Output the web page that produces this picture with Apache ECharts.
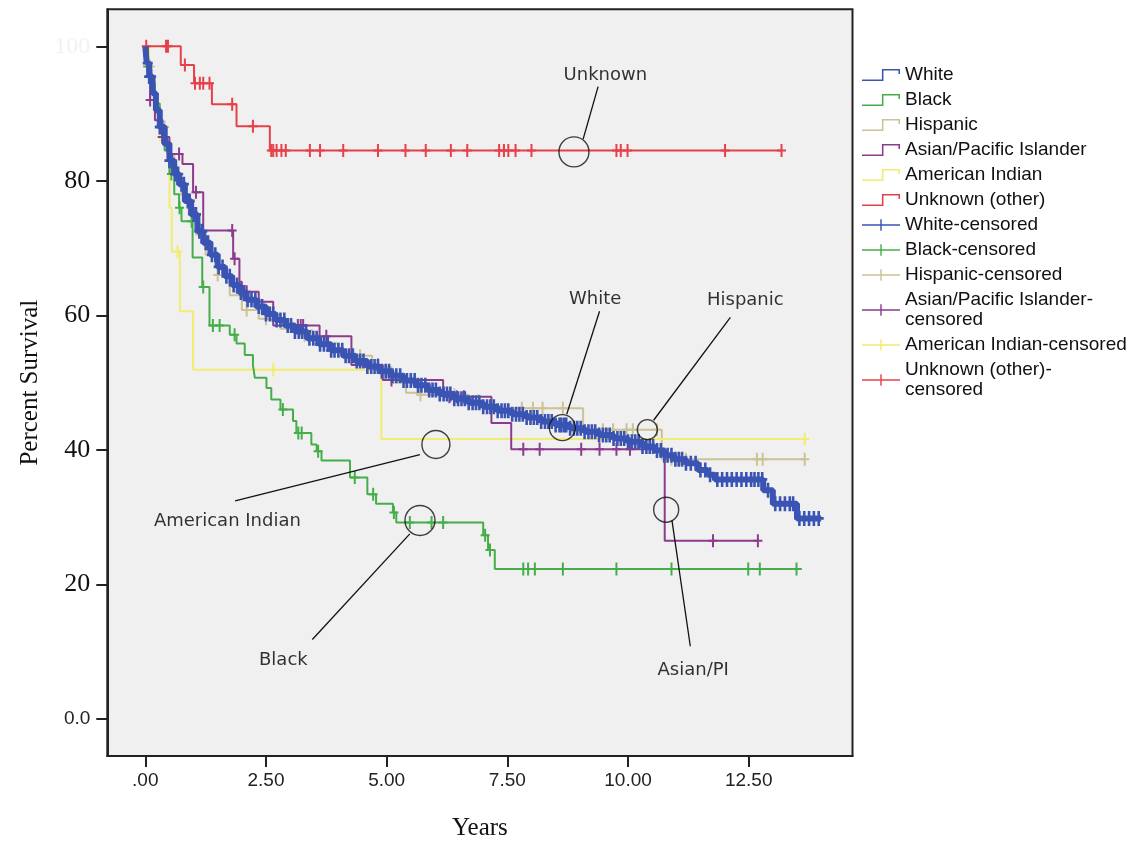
<!DOCTYPE html>
<html>
<head>
<meta charset="utf-8">
<script src="https://cdn.jsdelivr.net/npm/echarts@6/dist/echarts.min.js"></script>
<style>
html,body{margin:0;padding:0;background:#fff;}
#chart{width:1147px;height:846px;}
</style>
</head>
<body>
<div id="chart"></div>
<script>
// ---------------- DATA ----------------
const xTickValues = [0, 2.5, 5, 7.5, 10, 12.5];
const yTickValues = [0, 20, 40, 60, 80, 100];

const groupNames = ['White', 'Black', 'Hispanic', 'Asian/Pacific Islander', 'American Indian', 'Unknown (other)'];

// Kaplan-Meier step points [years, percent survival]
const whiteCurve = [[0,100],[0.03,97.5],[0.08,95.5],[0.15,93],[0.22,90.5],[0.3,88],[0.4,85.5],[0.5,83],[0.6,81],[0.7,79.5],[0.82,77],[0.95,75],[1.08,72.5],[1.2,70.8],[1.35,69],[1.5,67.2],[1.65,65.8],[1.8,64.5],[1.95,63.4],[2.1,62.3],[2.3,61.3],[2.5,60.2],[2.7,59.3],[2.9,58.5],[3.1,57.6],[3.35,56.6],[3.6,55.7],[3.85,54.8],[4.1,54.0],[4.35,53.2],[4.6,52.4],[4.85,51.7],[5.1,51.0],[5.35,50.3],[5.6,49.6],[5.85,48.9],[6.1,48.3],[6.4,47.6],[6.7,47.0],[7.0,46.4],[7.3,45.8],[7.6,45.3],[7.9,44.8],[8.2,44.2],[8.5,43.7],[8.8,43.2],[9.1,42.7],[9.4,42.2],[9.7,41.7],[10.0,41.2],[10.3,40.5],[10.55,39.9],[10.75,39.2],[10.95,38.6],[11.2,38.0],[11.45,37.0],[11.65,36.3],[11.8,35.6],[12.8,34.0],[13.0,32.0],[13.5,29.8],[14.0,29.8]];
const blackCurve = [[0,100],[0.05,97],[0.1,94.5],[0.2,91.5],[0.3,88],[0.4,84.5],[0.5,81],[0.6,78],[0.7,76],[0.75,74],[0.98,68.6],[1.18,64.2],[1.33,58.5],[1.75,57.1],[1.89,55.8],[2.06,54.1],[2.23,52.6],[2.27,50.7],[2.51,49.2],[2.61,47.5],[2.8,46.0],[3.06,44.3],[3.13,42.5],[3.44,40.8],[3.55,39.8],[3.65,38.4],[4.24,35.9],[4.6,33.4],[4.78,32.0],[5.13,30.7],[5.2,29.2],[7.0,27.3],[7.1,25.1],[7.24,22.3],[13.6,22.3]];
const hispanicCurve = [[0,100],[0.05,97],[0.12,94],[0.2,91],[0.3,88],[0.45,84],[0.6,80.5],[0.75,78],[0.9,75],[1.05,72],[1.25,69],[1.5,66],[1.75,63],[2.0,60.8],[2.35,59.5],[2.8,58],[3.2,57],[3.6,55.8],[4.0,54.6],[4.3,54],[4.7,52.3],[5.1,50],[5.4,48.5],[5.7,48.2],[6.7,47.3],[7.0,46.2],[9.07,43.0],[10.7,38.6],[13.66,38.6]];
const asianCurve = [[0,100],[0.05,96],[0.1,92],[0.2,89],[0.35,86.5],[0.5,84],[0.77,82.5],[0.99,78.3],[1.2,72.6],[1.82,68.4],[1.95,65],[2.0,63.5],[2.35,62],[2.65,58.5],[3.61,56.9],[4.27,52.6],[4.92,50.4],[6.17,47.9],[7.17,44.0],[7.58,40.1],[10.76,26.5],[12.69,26.5]];
const amIndianCurve = [[0,100],[0.08,95],[0.2,90],[0.3,86],[0.5,76],[0.55,69.5],[0.715,60.6],[0.99,51.9],[4.89,41.6],[13.66,41.6]];
const unknownCurve = [[0,100],[0.735,97.2],[1.01,94.5],[1.38,91.4],[1.89,88.1],[2.58,84.5],[13.18,84.5]];

// censoring times (years)
const whiteCensored = [0.05,0.08,0.12,0.3,0.35,0.45,0.5,0.55,0.62,0.68,0.75,0.8,0.88,0.92,1.0,1.05,1.12,1.18,1.25,1.3,1.38,1.45,1.52,1.6,1.68,1.75,1.83,1.9,1.98,2.05,2.12,2.2,2.28,2.35,2.42,2.5,2.58,2.65,2.72,2.8,2.88,2.95,3.02,3.1,3.18,3.25,3.33,3.4,3.48,3.55,3.62,3.7,3.78,3.85,3.92,4.0,4.08,4.15,4.22,4.3,4.38,4.45,4.52,4.6,4.68,4.75,4.82,4.9,4.98,5.05,5.12,5.2,5.28,5.35,5.42,5.5,5.58,5.65,5.72,5.8,5.88,5.95,6.02,6.1,6.18,6.25,6.32,6.4,6.48,6.55,6.62,6.7,6.78,6.85,6.92,7.0,7.08,7.15,7.22,7.3,7.38,7.45,7.52,7.6,7.68,7.75,7.82,7.9,7.98,8.05,8.12,8.2,8.28,8.35,8.42,8.5,8.58,8.62,8.68,8.72,8.8,8.88,8.95,9.02,9.1,9.18,9.25,9.32,9.4,9.48,9.55,9.62,9.7,9.78,9.85,9.92,10.0,10.08,10.15,10.22,10.3,10.38,10.45,10.52,10.6,10.68,10.75,10.82,10.9,10.98,11.05,11.12,11.2,11.3,11.4,11.5,11.6,11.7,11.85,11.95,12.05,12.15,12.25,12.35,12.45,12.55,12.62,12.7,12.78,12.9,13.05,13.15,13.25,13.35,13.42,13.55,13.65,13.75,13.85,13.95];
const blackCensored = [0.05,0.54,0.71,0.96,1.2,1.40,1.54,1.85,2.85,3.17,3.24,3.58,4.34,4.72,5.15,5.48,5.93,6.17,7.04,7.14,7.83,7.93,8.07,8.65,9.76,10.9,12.49,12.73,13.49];
const hispanicCensored = [0.1,0.4,0.8,1.5,2.1,2.5,3.3,3.45,4.3,4.45,5.7,6.4,6.9,7.8,8.03,8.23,8.65,9.48,9.69,9.97,10.1,10.6,10.9,11.0,11.1,11.2,12.67,12.79,13.66];
const asianCensored = [0.1,0.35,0.7,1.05,1.8,1.85,2.0,2.1,3.16,3.22,3.27,3.75,4.82,5.1,6.3,6.45,6.6,7.83,8.17,9.03,9.41,9.76,10.04,11.76,12.69];
const amIndianCensored = [0.67,2.65,13.66];
const unknownCensored = [0.02,0.43,0.47,0.82,1.03,1.13,1.2,1.33,1.8,2.23,2.61,2.65,2.72,2.82,2.91,3.41,3.62,4.10,4.82,5.39,5.81,6.33,6.67,7.33,7.43,7.52,7.67,8.0,9.76,9.85,9.99,12.01,13.18];

// annotations (data coordinates)
const annotLabels = ['Unknown', 'White', 'Hispanic', 'American Indian', 'Black', 'Asian/PI'];
const annotTextAt = [[9.53,95.7],[9.32,62.4],[12.43,62.3],[1.70,29.3],[2.86,8.7],[11.35,7.2]];
const annotCircleAt = [[8.88,84.3],[8.64,43.3],[10.40,43.0],[6.02,40.8],[5.69,29.5],[10.79,31.1]];
const annotLeaderFrom = [[9.38,94.0],[9.41,60.6],[12.12,59.7],[1.86,32.4],[3.46,11.8],[11.29,10.8]];
const annotLeaderTo = [[9.07,86.2],[8.73,45.3],[10.53,44.4],[5.69,39.3],[5.48,27.5],[10.91,29.5]];

// ---------------- STYLE ----------------
const curves = [whiteCurve, blackCurve, hispanicCurve, asianCurve, amIndianCurve, unknownCurve];
const censored = [whiteCensored, blackCensored, hispanicCensored, asianCensored, amIndianCensored, unknownCensored];
const colors = ['#3a54b3', '#45ae4a', '#cbc296', '#8c3b8d', '#f2ec72', '#e6414b'];
const lineWidths = [6, 2, 2, 2, 2, 2];
const zOrder = [8, 5, 3, 6, 4, 7];
const circleDiam = [30, 26, 20, 28, 30, 25];

const stepIcon = 'path://M0,10.25H19.25V0.25H36.75V5H35.25V1.75H20.75V11.75H0Z';
const crossIcon = 'path://M0,5.25H19.25V0H20.75V5.25H40V6.75H20.75V12H19.25V6.75H0Z';
const plusSymbol = 'path://M-1,-6.5H1V-1H4.5V1H1V6.5H-1V1H-4.5V-1H-1Z';
const boldPlusSymbol = 'path://M-1.3,-7H1.3V-1.3H5V1.3H1.3V7H-1.3V1.3H-5V-1.3H-1.3Z';
const censorSizes = [[10, 15], [9, 13], [9, 13], [9, 13], [9, 13], [9, 13]];

function stepAt(curve, t) {
  let v = curve[0][1];
  for (const p of curve) { if (p[0] <= t) v = p[1]; else break; }
  return v;
}

const series = [];
groupNames.forEach((name, i) => {
  series.push({
    name: name, type: 'line', step: 'end', data: curves[i],
    showSymbol: false, symbol: 'none', z: zOrder[i],
    color: colors[i],
    itemStyle: { color: colors[i], borderWidth: 0 },
    lineStyle: { color: colors[i], width: lineWidths[i] },
    animation: false, silent: true
  });
});
groupNames.forEach((name, i) => {
  series.push({
    name: name + '-censored', type: 'scatter',
    data: censored[i].map(t => [t, stepAt(curves[i], t)]),
    symbol: i === 0 ? boldPlusSymbol : plusSymbol, symbolSize: censorSizes[i], z: zOrder[i],
    color: colors[i],
    itemStyle: { color: colors[i], borderWidth: 0, opacity: 1 },
    animation: false, silent: true
  });
});
// annotation leaders
annotLabels.forEach((lab, i) => {
  series.push({
    type: 'line', data: [annotLeaderFrom[i], annotLeaderTo[i]],
    showSymbol: false, symbol: 'none', z: 20,
    lineStyle: { color: '#111', width: 1.3 }, animation: false, silent: true
  });
});
series.push({
  type: 'scatter', z: 21, animation: false, silent: true,
  data: annotCircleAt.map((p, i) => ({ value: p, symbolSize: circleDiam[i] })),
  symbol: 'circle',
  itemStyle: { color: 'rgba(0,0,0,0)', borderColor: '#111', borderWidth: 1.4 }
});
series.push({
  type: 'scatter', z: 22, animation: false, silent: true,
  data: annotTextAt.map((p, i) => ({ value: p, name: annotLabels[i] })),
  symbolSize: 2, itemStyle: { color: 'rgba(0,0,0,0)' },
  label: {
    show: true, position: 'inside', formatter: '{b}',
    fontFamily: 'DejaVu Sans', fontSize: 18, color: '#000', textBorderWidth: 0
  }
});

const legendNames = groupNames.map(n => ({ name: n, icon: stepIcon }))
  .concat(groupNames.map(n => ({ name: n + '-censored', icon: crossIcon })));

const chart = echarts.init(document.getElementById('chart'), null, { renderer: 'canvas' });
chart.setOption({
  backgroundColor: '#ffffff',
  animation: false,
  grid: {
    left: 107.3, right: 294.5, top: 9.3, bottom: 86,
    show: true, backgroundColor: '#f0f0f0', borderColor: '#222', borderWidth: 2
  },
  legend: {
    orient: 'vertical', left: 857, top: 60,
    itemWidth: 38, itemHeight: 12, itemGap: 5,
    selectedMode: false,
    data: legendNames,
    itemStyle: { borderWidth: 0 },
    textStyle: { fontFamily: 'Liberation Sans, Arial, sans-serif', fontSize: 19, color: '#111', lineHeight: 20 },
    formatter: function (n) {
      if (n === 'Asian/Pacific Islander-censored') return 'Asian/Pacific Islander-\ncensored';
      if (n === 'Unknown (other)-censored') return 'Unknown (other)-\ncensored';
      return n;
    }
  },
  xAxis: {
    type: 'value', min: -0.787, max: 14.65,
    name: 'Years', nameLocation: 'middle', nameGap: 60,
    nameTextStyle: { fontFamily: 'Liberation Serif, Times New Roman, serif', fontSize: 25, color: '#111' },
    axisLine: { show: true, onZero: false, lineStyle: { color: '#222', width: 2 } },
    axisTick: { show: true, customValues: xTickValues, length: 11, lineStyle: { color: '#222', width: 2 } },
    axisLabel: {
      customValues: xTickValues, margin: 15,
      fontFamily: 'Liberation Sans, Arial, sans-serif', fontSize: 19, color: '#222',
      formatter: v => (v === 0 ? '.00' : v.toFixed(2))
    },
    splitLine: { show: false }
  },
  yAxis: {
    type: 'value', min: -5.52, max: 105.5,
    name: 'Percent Survival', nameLocation: 'middle', nameGap: 64,
    nameTextStyle: { fontFamily: 'Liberation Serif, Times New Roman, serif', fontSize: 25, color: '#111' },
    axisLine: { show: true, onZero: false, lineStyle: { color: '#222', width: 2 } },
    axisTick: { show: true, customValues: yTickValues, length: 11, lineStyle: { color: '#222', width: 2 } },
    axisLabel: {
      customValues: yTickValues, margin: 17,
      formatter: v => (v === 0 ? '{s|0.0}' : (v === 100 ? '{w|100}' : '{t|' + v + '}')),
      rich: {
        t: { fontFamily: 'Liberation Serif, Times New Roman, serif', fontSize: 26, color: '#111' },
        s: { fontFamily: 'Liberation Sans, Arial, sans-serif', fontSize: 19, color: '#222' },
        w: { fontFamily: 'Liberation Serif, Times New Roman, serif', fontSize: 24, color: '#f2f2f2' }
      }
    },
    splitLine: { show: false }
  },
  series: series
});
</script>
</body>
</html>
